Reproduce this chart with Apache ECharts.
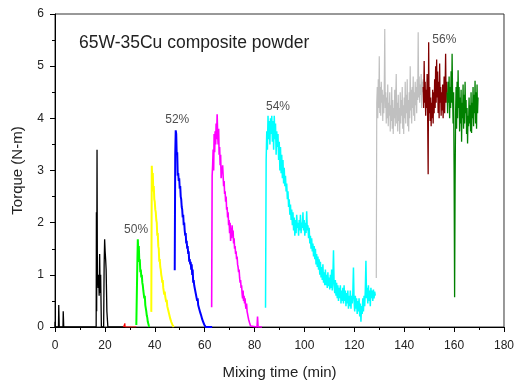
<!DOCTYPE html>
<html><head><meta charset="utf-8">
<script src="https://cdn.jsdelivr.net/npm/echarts@6/dist/echarts.min.js"></script>
<style>html,body{margin:0;padding:0;background:#fff}#c{width:517px;height:385px}</style>
</head><body><div id="c"></div>
<script>
// ---- Data (minutes, N-m) ----
const xMin = 0, xMax = 180, xStep = 20;
const yMin = 0, yMax = 6, yStep = 1;
const titleText = '65W-35Cu composite powder';
const xName = 'Mixing time (min)';
const yName = 'Torque (N-m)';

// Sparse traces as [time, torque]
const blackPts = [[0,0],[0.05,0.1],[0.15,0],[1.4,0],[1.5,0.42],[1.7,0],[3.2,0],[3.3,0.3],[3.5,0],[16.5,0],[16.6,2.2],[16.7,0.3],[16.85,3.4],[17.0,0.9],[17.1,1.0],[17.3,0.75],[17.5,1.0],[17.7,0.6],[17.9,1.4],[18.1,0.65],[18.3,1.0],[18.6,0],[19.5,0],[19.7,1.2],[19.9,1.68],[20.1,1.45],[20.3,1.3],[20.5,1.1],[20.8,0.3],[21.2,0],[27.5,0]];
const redPts = [[27.5,0],[27.8,0],[28.0,0.07],[28.1,0],[32.6,0]];

// Sampled traces: start time, sampling step, torque values, trailing points
const greenStart = 32.6, greenStep = 0.2;
const greenTorque = [0.04,0.05,1.2,1.68,1.45,1.55,1.25,1.3,1.05,1.1,0.95,1.0,0.85,0.8,0.7,0.72,0.55,0.6,0.42,0.45,0.3,0.22,0.18,0.1,0.07,0.03,0,0];

const yellowStart = 38.6, yellowStep = 0.2;
const yellowTorque = [0.29,3.09,2.85,2.95,2.6,2.7,2.45,2.4,2.25,2.2,2.05,2.0,1.75,1.8,1.55,1.5,1.25,1.3,1.15,1.1,1.0,0.95,0.85,0.9,0.75,0.78,0.62,0.68,0.58,0.55,0.48,0.52,0.4,0.42,0.32,0.35,0.24,0.26,0.16,0.18,0.1,0.12,0.05,0.06,0.02,0,0];

const blueStart = 48.0, blueStep = 0.2;
const blueTorque = [1.09,3.3,3.77,3.7,3.3,3.35,2.9,2.95,2.8,2.85,2.65,2.7,2.5,2.45,2.3,2.25,2.1,2.15,1.95,2.0,1.85,1.75,1.8,1.6,1.65,1.5,1.55,1.4,1.45,1.25,1.3,1.2,1.25,1.1,1.2,1.0,1.1,0.85,0.9,0.8,0.82,0.7,0.72,0.6,0.62,0.5,0.55,0.42,0.45,0.35,0.38,0.28,0.3,0.22,0.2,0.15,0.16,0.1,0.08,0.05,0.04,0.02,0];
const blueTail = [[63,0]];

const magentaStart = 62.8, magentaStep = 0.2;
const magentaTorque = [0.38,2.9,3.1,3.4,3.0,3.7,3.35,3.75,3.5,3.9,3.6,4.08,3.7,3.5,3.8,3.3,3.45,3.1,3.3,2.85,3.05,2.95,3.1,2.9,2.7,2.8,2.55,2.6,2.4,2.5,2.25,2.3,2.1,2.2,1.95,2.05,1.8,2.0,1.65,1.9,1.7,1.95,1.75,1.85,1.6,1.7,1.5,1.55,1.4,1.45,1.3,1.35,1.2,1.15,1.05,1.1,0.95,0.85,0.9,0.75,0.8,0.65,0.55,0.7,0.5,0.6,0.45,0.55,0.4,0.35,0.45,0.3,0.25,0.2,0.15,0.18,0.08,0.05,0.02,0];
const magentaTail = [[81.0,0],[81.2,0.2],[81.4,0],[83.0,0]];

const cyanStart = 84.4, cyanStep = 0.25;
const cyanTorque = [
0.37,3.2,3.75,3.4, 4.05,3.6,3.95,3.5, 4.0,3.7,4.05,3.55, 3.95,3.4,4.05,3.6,
3.9,3.3,3.75,3.45, 3.7,3.2,3.55,3.0, 3.45,2.95,3.3,2.85, 3.2,2.75,3.05,2.7,
2.9,2.6,2.75,2.45, 2.6,2.3,2.45,2.15, 2.35,2.05,2.25,1.95, 2.2,1.85,2.1,1.75,
2.05,1.8,2.15,1.9, 2.0,1.75,2.05,1.85, 2.15,1.8,2.0,1.9, 2.2,1.85,2.05,1.75,
2.0,1.8,2.22,1.85, 1.95,1.7,1.9,1.6, 1.75,1.5,1.7,1.45, 1.6,1.35,1.55,1.3,
1.5,1.2,1.4,1.15, 1.35,1.1,1.3,1.0, 1.25,0.95,1.15,0.9, 1.2,0.85,1.05,0.8,
1.1,0.8,1.0,0.75, 1.05,0.78,0.95,0.72, 1.0,0.75,1.1,0.7, 0.95,1.47,0.8,0.65,
0.9,0.6,0.85,0.55, 0.8,0.5,0.75,0.55, 0.8,0.45,0.7,0.5, 0.75,0.45,0.8,0.5,
0.7,0.4,0.65,0.45, 0.7,0.35,0.6,0.4, 0.7,0.35,0.6,0.45, 0.65,1.14,0.5,0.3,
0.6,0.35,0.55,0.25, 0.5,0.3,0.55,0.2, 0.45,0.1,0.4,0.25, 0.55,0.3,0.6,0.4,
0.7,1.27,0.55,0.75, 0.45,0.8,0.5,0.7, 0.4,0.75,0.55,0.7, 0.5,0.72,0.55,0.68,
0.6];

const grayStart = 128.8, grayStep = 0.2;
const grayTorque = [0.94,4.3,4.6,4.0,4.75,4.2,5.19,4.1,4.6,4.05,4.7,4.3,4.55,3.95,4.45,4.1,4.6,5.71,4.2,4.5,
3.9,4.4,4.0,4.65,3.85,4.3,4.05,4.5,3.75,4.25,3.95,4.6,3.8,4.35,3.7,4.2,4.0,4.55,3.85,4.4,
4.85,3.9,4.3,3.75,4.45,3.95,4.2,3.7,4.5,3.9,4.35,4.05,4.6,3.8,4.25,3.7,4.4,4.0,4.7,3.9,
4.45,4.1,4.75,3.85,4.35,3.75,4.5,4.0,5.0,4.15,4.55,3.9,4.6,4.2,4.8,4.05,4.5,3.95,4.7,4.25,
4.6,4.1,4.75,4.35,5.65,4.4,4.8,4.3,4.65,4.45,4.85,4.2,4.7,4.5,4.75];

const darkRedStart = 147.6, darkRedStep = 0.2;
const darkRedTorque = [4.6,4.2,5.1,4.3,4.7,4.05,4.55,4.2,4.85,4.0,2.93,5.46,4.1,4.6,3.95,4.4,3.85,4.3,4.0,4.55,
3.9,4.5,4.1,4.75,4.2,5.0,4.3,5.13,4.4,4.9,4.1,4.7,4.0,5.05,4.3,4.6,4.05,4.5,4.15,4.65,
4.0,4.4,4.8,4.1,4.6,5.24,4.3,4.7,4.5];

const darkGreenStart = 157.2, darkGreenStep = 0.2;
const darkGreenTorque = [4.5,4.1,4.7,4.3,4.8,4.0,4.6,4.2,4.9,4.3,5.24,4.4,3.9,4.5,2.98,0.57,2.72,4.1,4.6,3.8,
4.7,4.0,4.92,4.2,4.6,3.75,4.4,3.9,4.55,3.55,4.3,4.0,4.65,3.8,4.45,3.9,4.7,4.1,4.35,3.7,
4.2,3.52,4.05,3.85,4.4,3.9,4.25,3.75,4.5,3.72,4.3,4.0,4.6,3.85,4.45,4.1,4.72,3.9,4.5,3.8,
4.65,4.1,4.4];

// Annotations: [time, torque, text]
const annotations = [[32.5,1.87,'50%'],[49.0,3.97,'52%'],[89.4,4.22,'54%'],[156.1,5.5,'56%']];

// ---- Build ----
function sampled(t0, dt, vals, tail) {
  const pts = vals.map((v, i) => [+(t0 + i * dt).toFixed(3), v]);
  return tail ? pts.concat(tail) : pts;
}
const traces = [
  {data: blackPts, color: '#000000', w: 1.3},
  {data: redPts, color: '#ff0000', w: 1.2},
  {data: sampled(greenStart, greenStep, greenTorque), color: '#00ff00', w: 2},
  {data: sampled(yellowStart, yellowStep, yellowTorque), color: '#ffff00', w: 2},
  {data: sampled(blueStart, blueStep, blueTorque, blueTail), color: '#0000ff', w: 2},
  {data: sampled(magentaStart, magentaStep, magentaTorque, magentaTail), color: '#ff00ff', w: 1.6},
  {data: sampled(cyanStart, cyanStep, cyanTorque), color: '#00ffff', w: 1.5},
  {data: sampled(grayStart, grayStep, grayTorque), color: '#c0c0c0', w: 1.2},
  {data: sampled(darkRedStart, darkRedStep, darkRedTorque), color: '#800000', w: 1.3},
  {data: sampled(darkGreenStart, darkGreenStep, darkGreenTorque), color: '#008000', w: 1.3}
];

const FONT = "'Liberation Sans', Arial, sans-serif";
const chart = echarts.init(document.getElementById('c'), null, {renderer: 'canvas'});
const series = traces.map(t => ({
  type: 'line', data: t.data, showSymbol: false, symbol: 'none',
  lineStyle: {color: t.color, width: t.w}, itemStyle: {color: t.color},
  animation: false, silent: true, clip: true
}));
series.push({
  type: 'scatter', data: annotations, symbolSize: 1,
  itemStyle: {color: 'rgba(0,0,0,0)'}, silent: true, animation: false,
  label: {show: true, position: 'inside', formatter: p => p.data[2],
    color: '#222', fontSize: 12, fontFamily: FONT}
});

chart.setOption({
  backgroundColor: '#fff',
  animation: false,
  title: {text: titleText, left: 79, top: 34, padding: 0,
    textStyle: {fontSize: 17.5, fontWeight: 'normal', color: '#222', fontFamily: FONT}},
  grid: {left: 55, right: 9, top: 14, bottom: 55, show: true, borderColor: '#333', borderWidth: 1, backgroundColor: 'transparent'},
  xAxis: {
    type: 'value', min: xMin, max: xMax, interval: xStep,
    name: xName, nameLocation: 'middle', nameGap: 38,
    nameTextStyle: {fontSize: 15, color: '#222', fontFamily: FONT},
    axisLine: {show: true, lineStyle: {color: '#000', width: 1}},
    axisTick: {show: true, inside: false, length: 5, lineStyle: {color: '#000'}},
    minorTick: {show: true, splitNumber: 2, length: 3, lineStyle: {color: '#000'}},
    axisLabel: {color: '#222', fontSize: 12, margin: 13, fontFamily: FONT},
    splitLine: {show: false}
  },
  yAxis: {
    type: 'value', min: yMin, max: yMax, interval: yStep,
    name: yName, nameLocation: 'middle', nameGap: 30,
    nameTextStyle: {fontSize: 15, color: '#222', fontFamily: FONT},
    axisLine: {show: true, lineStyle: {color: '#000', width: 1}},
    axisTick: {show: true, inside: false, length: 5, lineStyle: {color: '#000'}},
    minorTick: {show: true, splitNumber: 2, length: 3, lineStyle: {color: '#000'}},
    axisLabel: {color: '#222', fontSize: 12, margin: 11, fontFamily: FONT},
    splitLine: {show: false}
  },
  series: series
});
</script>
</body></html>
